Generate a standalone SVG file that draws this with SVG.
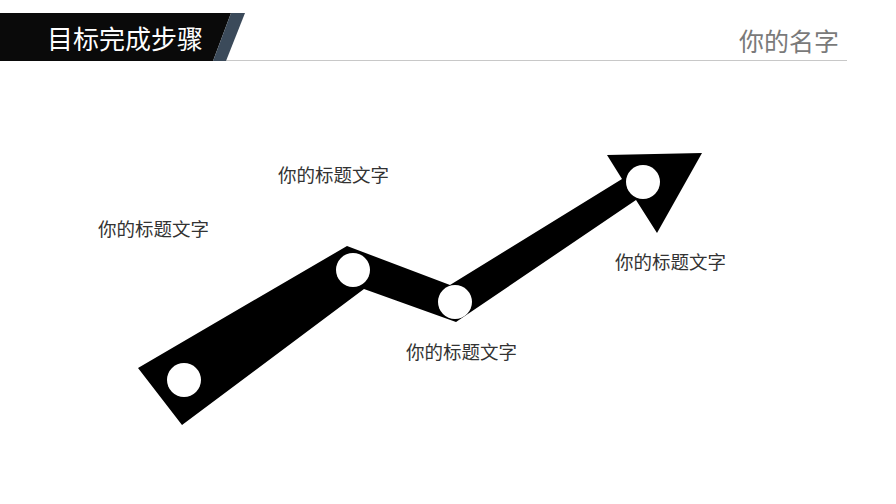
<svg xmlns="http://www.w3.org/2000/svg" width="896" height="504" viewBox="0 0 896 504">
<style>
.lbl{font-family:"Noto Sans CJK SC","Noto Sans",sans-serif;font-size:18.5px;fill:#333333}
.hole{fill:#ffffff}
</style>
<rect width="896" height="504" fill="#ffffff"/>
<g id="header">
<line x1="210" y1="60.5" x2="847" y2="60.5" stroke="#c8c8c8" stroke-width="1"/>
<polygon points="0,13 231,13 213,61 0,61" fill="#0a0a0a"/>
<polygon points="231,13 245,13 226,61 213,61" fill="#3b4a5a"/>
<text x="47" y="49" font-family="'Noto Sans CJK SC',sans-serif" font-size="26" fill="#ffffff">目标完成步骤</text>
<text x="739" y="51" font-family="'Noto Sans CJK SC',sans-serif" font-size="25" fill="#7a7a7a">你的名字</text>
</g>
<g id="arrow">
<polygon points="138,368 347,246 450,285 622,179 607,155 702,153 657,233 636,200 456,322 364,289 182,425" fill="#000000"/>
<circle class="hole" cx="184" cy="380" r="17"/>
<circle class="hole" cx="353" cy="270" r="17"/>
<circle class="hole" cx="455" cy="302" r="17"/>
<circle class="hole" cx="643" cy="182" r="17"/>
</g>
<g id="label1"><text class="lbl" x="98" y="236">你的标题文字</text></g>
<g id="label2"><text class="lbl" x="278" y="182">你的标题文字</text></g>
<g id="label3"><text class="lbl" x="406" y="359">你的标题文字</text></g>
<g id="label4"><text class="lbl" x="615" y="269">你的标题文字</text></g>
<g id="connectors"></g>
</svg>
